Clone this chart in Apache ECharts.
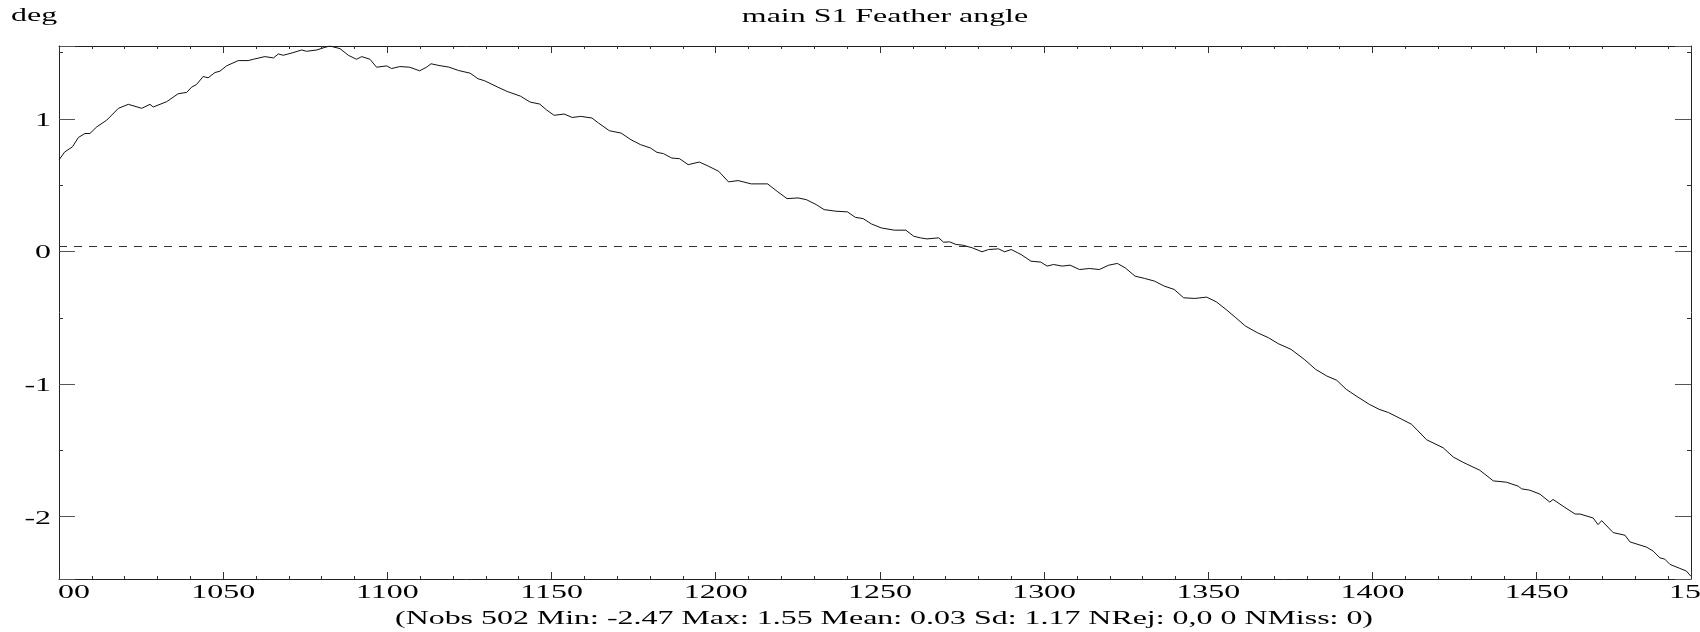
<!DOCTYPE html>
<html>
<head>
<meta charset="utf-8">
<script src="https://cdn.jsdelivr.net/npm/echarts@6/dist/echarts.min.js"></script>
<style>
html,body{margin:0;padding:0;background:#fff;}
#c{width:1700px;height:632px;}
</style>
</head>
<body>
<div id="c"></div>
<script>
// ---- data ----
const titleText = 'main S1 Feather angle';
const unitText = 'deg';
const statsText = '(Nobs 502 Min: -2.47 Max: 1.55 Mean: 0.03 Sd: 1.17 NRej: 0,0 0 NMiss: 0)';
const meanLevel = 0.045;
const xMin = 1000, xMax = 1497;
const yMin = -2.47, yMax = 1.55;
const xTickValues = [1000, 1050, 1100, 1150, 1200, 1250, 1300, 1350, 1400, 1450, 1500];
const xTickLabels = ['00', '1050', '1100', '1150', '1200', '1250', '1300', '1350', '1400', '1450', '1500'];
const yTickValues = [1, 0, -1, -2];
const yTickLabels = ['1', '0', '-1', '-2'];

const xVals = [
1000.0,1001.7,1004.1,1005.9,1007.9,1009.4,1011.5,1014.5,1018.1,1021.1,
1025.2,1027.7,1028.7,1032.8,1036.3,1038.9,1040.4,1041.9,1043.9,1045.4,
1047.5,1049.0,1051.0,1054.6,1057.6,1059.2,1062.7,1065.3,1066.8,1068.3,
1071.3,1073.9,1075.4,1078.5,1081.0,1082.5,1085.6,1088.1,1090.6,1092.2,
1094.7,1096.7,1099.8,1101.3,1103.8,1106.8,1109.8,1111.8,1113.3,1115.7,
1118.7,1121.7,1125.2,1127.6,1129.6,1133.6,1136.5,1140.5,1143.5,1146.4,
1148.4,1150.8,1153.8,1156.3,1158.9,1162.3,1164.3,1167.6,1171.2,1174.2,
1177.1,1180.1,1182.1,1184.1,1186.6,1189.0,1191.6,1195.0,1197.9,1200.9,
1203.9,1206.8,1210.8,1215.8,1218.7,1221.7,1225.1,1227.6,1230.6,1233.0,
1236.6,1240.1,1242.5,1244.9,1247.4,1250.4,1254.4,1257.9,1260.3,1262.3,
1264.3,1267.9,1269.4,1271.2,1273.2,1275.2,1278.1,1281.1,1283.1,1286.1,
1288.0,1290.0,1293.0,1296.0,1299.0,1300.9,1302.9,1305.5,1307.9,1310.8,
1313.8,1316.8,1319.7,1322.3,1324.7,1327.7,1330.6,1333.6,1336.6,1339.6,
1342.5,1345.9,1349.5,1352.4,1355.4,1358.4,1361.3,1364.9,1368.3,1371.3,
1375.2,1379.2,1382.7,1386.1,1389.1,1392.0,1395.0,1399.0,1402.0,1404.9,
1408.9,1411.9,1416.5,1421.5,1424.6,1427.6,1432.7,1436.8,1440.8,1444.4,
1445.4,1447.9,1451.0,1454.0,1455.0,1458.6,1461.7,1463.2,1467.2,1468.7,
1469.8,1473.3,1476.9,1478.4,1483.5,1485.5,1487.5,1489.0,1490.6,1493.6,
1495.6,1497.0
];
const yVals = [
0.69,0.75,0.79,0.86,0.89,0.89,0.94,0.99,1.08,1.11,
1.08,1.11,1.09,1.13,1.19,1.20,1.24,1.26,1.32,1.31,
1.35,1.36,1.40,1.44,1.44,1.45,1.47,1.46,1.49,1.48,
1.50,1.52,1.51,1.52,1.54,1.55,1.53,1.48,1.45,1.47,
1.45,1.39,1.40,1.38,1.395,1.39,1.363,1.388,1.416,1.403,
1.391,1.365,1.345,1.303,1.288,1.240,1.207,1.172,1.127,1.112,
1.069,1.027,1.037,1.011,1.019,1.007,0.969,0.911,0.893,0.843,
0.806,0.781,0.748,0.738,0.705,0.700,0.655,0.675,0.642,0.605,
0.525,0.535,0.510,0.510,0.454,0.399,0.404,0.391,0.354,0.316,
0.304,0.299,0.258,0.248,0.208,0.178,0.161,0.161,0.115,0.103,
0.095,0.103,0.070,0.073,0.053,0.048,0.028,-0.002,0.015,0.020,
-0.002,0.015,-0.023,-0.073,-0.080,-0.110,-0.098,-0.110,-0.103,-0.136,
-0.128,-0.136,-0.103,-0.090,-0.123,-0.186,-0.203,-0.223,-0.261,-0.286,
-0.349,-0.354,-0.344,-0.379,-0.437,-0.500,-0.562,-0.612,-0.650,-0.695,
-0.738,-0.813,-0.889,-0.939,-0.971,-1.039,-1.089,-1.152,-1.190,-1.215,
-1.265,-1.303,-1.42,-1.48,-1.55,-1.59,-1.65,-1.73,-1.74,-1.77,
-1.79,-1.80,-1.83,-1.89,-1.87,-1.93,-1.98,-1.98,-2.01,-2.06,
-2.03,-2.12,-2.14,-2.19,-2.23,-2.26,-2.31,-2.32,-2.36,-2.39,
-2.41,-2.45
];

// ---- chart ----
const FONT = '19px "Liberation Serif", "Times New Roman", serif';
const STRETCH = 1.68;
const chart = echarts.init(document.getElementById('c'), null, {renderer: 'canvas'});
const seriesData = xVals.map((x, i) => [x, yVals[i]]);

function xAxisCfg(pos) {
  return {
    type: 'value', position: pos, min: xMin, max: xMax, interval: 50,
    axisLine: {show: true, onZero: false, lineStyle: {color: '#222', width: 1}},
    axisTick: {show: true, inside: true, length: 7, lineStyle: {color: '#333'}},
    minorTick: {show: true, splitNumber: 5, length: 3, lineStyle: {color: '#333'}},
    axisLabel: {show: false},
    splitLine: {show: false}
  };
}
function yAxisCfg(pos) {
  return {
    type: 'value', position: pos, min: yMin, max: yMax, splitNumber: 4,
    axisLine: {show: true, onZero: false, lineStyle: {color: '#222', width: 1}},
    axisTick: {show: true, inside: true, length: 16, lineStyle: {color: '#555'}},
    minorTick: {show: true, splitNumber: 2, length: 4, lineStyle: {color: '#333'}},
    axisLabel: {show: false},
    splitLine: {show: false}
  };
}

chart.setOption({
  animation: false,
  backgroundColor: '#fff',
  grid: {left: 59, right: 9, top: 46, bottom: 53, containLabel: false},
  xAxis: [xAxisCfg('bottom'), xAxisCfg('top')],
  yAxis: [yAxisCfg('left'), yAxisCfg('right')],
  series: [{
    type: 'line',
    data: seriesData,
    showSymbol: false,
    symbol: 'none',
    lineStyle: {color: '#111', width: 1},
    markLine: {
      silent: true,
      symbol: 'none',
      label: {show: false},
      lineStyle: {color: '#333', width: 1, type: [8, 7]},
      data: [{yAxis: meanLevel}]
    }
  }]
});

function txt(text, x, y, align, vAlign) {
  return {
    type: 'text', x: x, y: y, scaleX: STRETCH, scaleY: 1, silent: true, z: 10,
    style: {
      text: text, font: FONT, fill: '#000',
      align: align, textAlign: align,
      verticalAlign: vAlign, textVerticalAlign: vAlign
    }
  };
}

const graphics = [];
const yBottomPx = chart.convertToPixel({yAxisIndex: 0}, yMin);
const xLeftPx = chart.convertToPixel({xAxisIndex: 0}, xMin);
xTickValues.forEach((v, i) => {
  const px = chart.convertToPixel({xAxisIndex: 0}, v);
  if (i === 0) {
    graphics.push(txt(xTickLabels[i], xLeftPx - 1, yBottomPx + 14, 'left', 'middle'));
  } else {
    graphics.push(txt(xTickLabels[i], px, yBottomPx + 14, 'center', 'middle'));
  }
});
yTickValues.forEach((v, i) => {
  const py = chart.convertToPixel({yAxisIndex: 0}, v);
  graphics.push(txt(yTickLabels[i], xLeftPx - 8, py + 2, 'right', 'middle'));
});
graphics.push(txt(titleText, 885, 17, 'center', 'middle'));
graphics.push(txt(unitText, 11, 16, 'left', 'middle'));
graphics.push(txt(statsText, 884, 619, 'center', 'middle'));

chart.setOption({graphic: graphics});
</script>
</body>
</html>
